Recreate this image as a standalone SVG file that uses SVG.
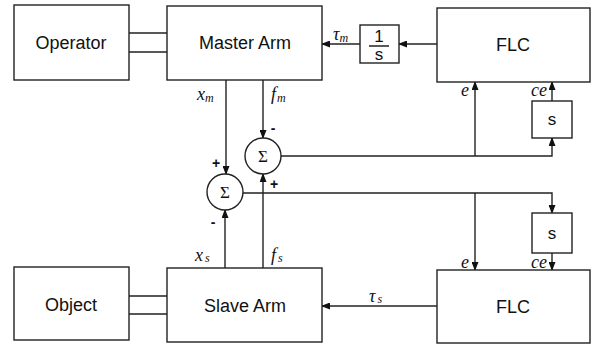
<svg xmlns="http://www.w3.org/2000/svg" width="599" height="348" viewBox="0 0 599 348">
<defs>
<marker id="ah" markerWidth="9" markerHeight="7" refX="8" refY="3.5" orient="auto" markerUnits="userSpaceOnUse">
<path d="M0,0 L9,3.5 L0,7 z" fill="#111"/>
</marker>
<style>
.box{fill:#fff;stroke:#222;stroke-width:1.4}
.lbl{font-family:"Liberation Sans",Arial,sans-serif;font-size:18px;fill:#111;text-anchor:middle}
.sm{font-family:"Liberation Sans",Arial,sans-serif;font-size:17px;fill:#111;text-anchor:middle}
.it{font-family:"Liberation Serif","Times New Roman",serif;font-style:italic;font-size:18px;fill:#111}
.sub{font-size:12px}
.sg{font-family:"Liberation Serif","Times New Roman",serif;font-size:17px;fill:#111;text-anchor:middle}
.pm{font-family:"Liberation Sans",Arial,sans-serif;font-size:14px;font-weight:bold;fill:#111;text-anchor:middle}
.ln{fill:none;stroke:#222;stroke-width:1.4}
.ar{fill:none;stroke:#222;stroke-width:1.4;marker-end:url(#ah)}
</style>
</defs>
<g id="connectors">
<path class="ln" d="M129,33 H167 M129,52 H167"/>
<path class="ln" d="M129,296 H167 M129,314 H167"/>
<path class="ar" d="M226,80 V174"/>
<path class="ar" d="M263,80 V138"/>
<path class="ar" d="M263,268 V174"/>
<path class="ar" d="M225,268 V210"/>
<path class="ar" d="M281,156 H552 V138"/>
<path class="ar" d="M475,156 V82"/>
<path class="ar" d="M552,101 V82"/>
<path class="ar" d="M437,44 H399"/>
<path class="ar" d="M360,44 H322"/>
<path class="ar" d="M243,193 H552 V213"/>
<path class="ar" d="M475,193 V270"/>
<path class="ar" d="M552,253 V270"/>
<path class="ar" d="M437,306 H322"/>
</g>
<g id="operator"><rect class="box" x="14" y="5" width="115" height="75"/><text class="lbl" x="71" y="49">Operator</text></g>
<g id="master"><rect class="box" x="167" y="6" width="155" height="74"/><text class="lbl" x="245" y="49">Master Arm</text></g>
<g id="integrator"><rect class="box" x="360" y="25" width="39" height="38"/><text class="sm" x="379" y="42" font-size="15">1</text><line x1="369" y1="46" x2="389" y2="46" stroke="#111" stroke-width="1.4"/><text class="sm" x="379" y="60" font-size="17">s</text></g>
<g id="flc-top"><rect class="box" x="437" y="8" width="153" height="74"/><text class="lbl" x="513" y="51">FLC</text></g>
<g id="s-top"><rect class="box" x="532" y="101" width="40" height="37"/><text class="sm" x="552" y="125">s</text></g>
<g id="sum-top"><circle class="box" cx="263" cy="156" r="18"/><text class="sg" x="263" y="162">Σ</text></g>
<g id="sum-bottom"><circle class="box" cx="225" cy="192" r="18"/><text class="sg" x="225" y="198">Σ</text></g>
<g id="s-bottom"><rect class="box" x="532" y="213" width="40" height="40"/><text class="sm" x="552" y="239">s</text></g>
<g id="object"><rect class="box" x="14" y="267" width="115" height="73"/><text class="lbl" x="71" y="311">Object</text></g>
<g id="slave"><rect class="box" x="167" y="268" width="155" height="74"/><text class="lbl" x="245" y="312">Slave Arm</text></g>
<g id="flc-bottom"><rect class="box" x="437" y="270" width="153" height="73"/><text class="lbl" x="513" y="313">FLC</text></g>
<g id="labels">
<text class="it" x="197" y="100">x<tspan class="sub" dy="2">m</tspan></text>
<text class="it" x="271" y="100">f<tspan class="sub" dx="1" dy="2">m</tspan></text>
<text class="it" x="195" y="261">x<tspan class="sub" dx="2" dy="1">s</tspan></text>
<text class="it" x="271" y="261">f<tspan class="sub" dx="2" dy="1">s</tspan></text>
<text class="it" x="333" y="40" font-style="normal">τ<tspan class="sub" font-style="italic" dy="2">m</tspan></text>
<text class="it" x="369" y="302" font-style="normal">τ<tspan class="sub" font-style="italic" dx="2" dy="1">s</tspan></text>
<text class="it" x="461" y="96">e</text>
<text class="it" x="531" y="96">ce</text>
<text class="it" x="461" y="268">e</text>
<text class="it" x="531" y="268">ce</text>
<text class="pm" x="273" y="133">-</text>
<text class="pm" x="216" y="168">+</text>
<text class="pm" x="274" y="189">+</text>
<text class="pm" x="213" y="227">-</text>
</g>
</svg>
